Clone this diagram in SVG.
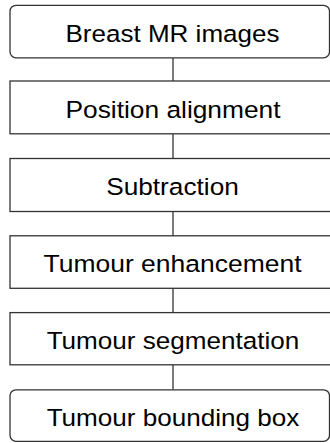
<svg xmlns="http://www.w3.org/2000/svg" width="330" height="443" viewBox="0 0 330 443">
<style>
.box{fill:#fff;stroke:#333;stroke-width:1.3}
.lbl{font-family:"Liberation Sans",Arial,sans-serif;font-size:24.5px;fill:#000;text-anchor:middle}
.conn{stroke:#333;stroke-width:1.3;fill:none}
</style>
<rect width="330" height="443" fill="#fff"/>
<g id="connectors">
<line class="conn" x1="173" y1="57.8" x2="173" y2="81"/>
<line class="conn" x1="173" y1="133.8" x2="173" y2="158.5"/>
<line class="conn" x1="173" y1="211.5" x2="173" y2="235.8"/>
<line class="conn" x1="173" y1="288.3" x2="173" y2="312.6"/>
<line class="conn" x1="173" y1="364.8" x2="173" y2="389.8"/>
</g>
<g id="n1"><rect class="box" x="10" y="5.3" width="319.5" height="52.5" rx="6"/><text class="lbl" x="172.5" y="41.5" textLength="214" lengthAdjust="spacingAndGlyphs">Breast MR images</text></g>
<g id="n2"><rect class="box" x="10" y="81" width="330" height="52.8"/><text class="lbl" x="173" y="117.5" textLength="215" lengthAdjust="spacingAndGlyphs">Position alignment</text></g>
<g id="n3"><rect class="box" x="10" y="158.5" width="330" height="53"/><text class="lbl" x="172.5" y="195" textLength="132.7" lengthAdjust="spacingAndGlyphs">Subtraction</text></g>
<g id="n4"><rect class="box" x="10" y="235.8" width="330" height="52.5"/><text class="lbl" x="172.5" y="271.5" textLength="258" lengthAdjust="spacingAndGlyphs">Tumour enhancement</text></g>
<g id="n5"><rect class="box" x="10" y="312.6" width="330" height="52.2"/><text class="lbl" x="173" y="348.5" textLength="252.7" lengthAdjust="spacingAndGlyphs">Tumour segmentation</text></g>
<g id="n6"><rect class="box" x="10" y="389.8" width="319.5" height="51.5" rx="6"/><text class="lbl" x="173" y="425.5" textLength="252.7" lengthAdjust="spacingAndGlyphs">Tumour bounding box</text></g>
</svg>
